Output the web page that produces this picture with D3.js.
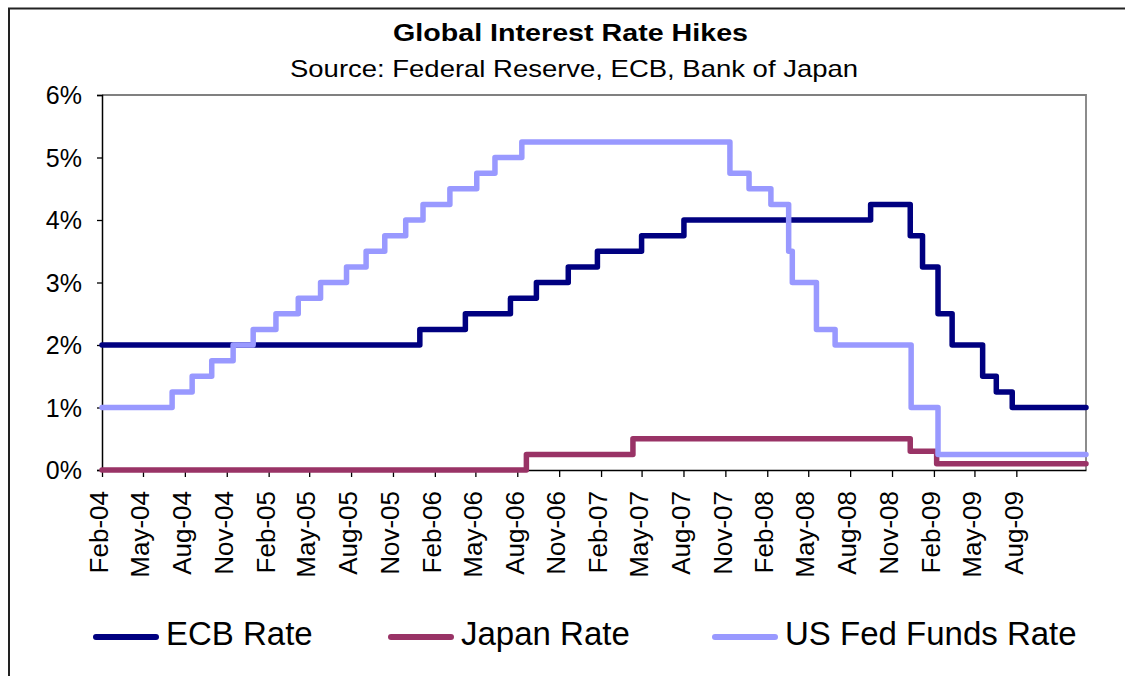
<!DOCTYPE html>
<html><head><meta charset="utf-8">
<script src="https://cdn.jsdelivr.net/npm/d3@7"></script>
<style>body{margin:0;background:#fff} svg{display:block}</style>
</head><body>
<svg id="chart" width="1125" height="676"></svg>
<script>
// ---- data ----
const tickLabels = ["Feb-04","May-04","Aug-04","Nov-04","Feb-05","May-05","Aug-05","Nov-05",
  "Feb-06","May-06","Aug-06","Nov-06","Feb-07","May-07","Aug-07","Nov-07",
  "Feb-08","May-08","Aug-08","Nov-08","Feb-09","May-09","Aug-09"];
const yTickValues = [0,1,2,3,4,5,6];
const startDate = "2004-02-01";
const endDate = "2010-01-01";

const ecbDates = ["2004-02-01","2005-12-30","2006-04-09","2006-07-17","2006-09-12","2006-11-21","2007-01-24",
  "2007-05-01","2007-08-02","2008-09-15","2008-12-11","2009-01-07","2009-02-10","2009-03-13","2009-05-19",
  "2009-06-18","2009-07-23"];
const ecbRates = [2.00,2.25,2.50,2.75,3.00,3.25,3.50,3.75,4.00,4.25,3.75,3.25,2.50,2.00,1.50,1.25,1.00];

const japanDates = ["2004-02-01","2006-08-21","2007-04-12","2008-12-11","2009-02-07"];
const japanRates = [0,0.25,0.50,0.30,0.10];

const fedDates = ["2004-02-01","2004-07-04","2004-08-17","2004-09-29","2004-11-15","2004-12-29","2005-02-17",
  "2005-04-07","2005-05-26","2005-07-22","2005-09-03","2005-10-14","2005-11-29","2006-01-06","2006-03-06",
  "2006-05-04","2006-06-13","2006-08-11","2007-11-11","2007-12-23","2008-02-09","2008-03-19","2008-03-27",
  "2008-05-19","2008-06-29","2008-12-13","2009-02-10"];
const fedRates = [1.00,1.25,1.50,1.75,2.00,2.25,2.50,2.75,3.00,3.25,3.50,3.75,4.00,4.25,4.50,4.75,5.00,5.25,
  4.75,4.50,4.25,3.50,3.00,2.25,2.00,1.00,0.25];

const seriesNames = ["ECB Rate","Japan Rate","US Fed Funds Rate"];
const seriesColors = ["#000080","#993366","#9999FF"];

// ---- build ----
const parseDay = d3.timeParse("%Y-%m-%d");
const parseTick = d3.timeParse("%b-%y");
const fmtTick = d3.timeFormat("%b-%y");

function buildSeries(dates, rates){
  const pts = dates.map((d,i)=>({date: parseDay(d), v: rates[i]}));
  pts.push({date: parseDay(endDate), v: rates[rates.length-1]});
  return pts;
}
const series = [buildSeries(ecbDates, ecbRates), buildSeries(japanDates, japanRates), buildSeries(fedDates, fedRates)];

const svg = d3.select("#chart");
const FONT = "'Liberation Sans', Arial, sans-serif";
const L = 102, R = 1086, T = 95, B = 470;

// outer frame
svg.append("rect").attr("x",9).attr("y",8.5).attr("width",1125).attr("height",700)
  .attr("fill","#fff").attr("stroke","#222").attr("stroke-width",2);

const x = d3.scaleTime().domain([parseDay(startDate), parseDay(endDate)]).range([L, R]);
const y = d3.scaleLinear().domain([0, 6]).range([B, T]);

// plot frame (top/right grey)
svg.append("path").attr("d",`M${L},${T}H${R}V${B}`).attr("fill","none")
  .attr("stroke","#808080").attr("stroke-width",1.8);

// title
svg.append("text").attr("x",570.5).attr("y",41).attr("text-anchor","middle")
  .attr("font-family",FONT).attr("font-weight","bold").attr("font-size",23)
  .attr("textLength",355).attr("lengthAdjust","spacingAndGlyphs")
  .text("Global Interest Rate Hikes");
svg.append("text").attr("x",574).attr("y",77).attr("text-anchor","middle")
  .attr("font-family",FONT).attr("font-size",24)
  .attr("textLength",568).attr("lengthAdjust","spacingAndGlyphs")
  .text("Source: Federal Reserve, ECB, Bank of Japan");

// y axis
const yAxis = svg.append("g").attr("transform",`translate(${L},0)`)
  .call(d3.axisLeft(y).tickValues(yTickValues).tickSize(5).tickFormat(d=>d+"%"));
yAxis.select(".domain").attr("stroke","#000").attr("stroke-width",1.5);
yAxis.selectAll(".tick line").attr("stroke","#000").attr("stroke-width",1.3);
yAxis.selectAll(".tick text").attr("x",-20).attr("dy","0.34em")
  .attr("font-family",FONT).attr("font-size",25).attr("fill","#000");

// x axis
const tickDates = tickLabels.map(t=>parseTick(t));
const xAxis = svg.append("g").attr("transform",`translate(0,${B})`)
  .call(d3.axisBottom(x).tickValues(tickDates).tickSize(7).tickFormat(fmtTick).tickSizeOuter(0));
xAxis.select(".domain").attr("stroke","#000").attr("stroke-width",1.5);
xAxis.selectAll(".tick line").attr("stroke","#000").attr("stroke-width",1.3);
xAxis.selectAll(".tick text")
  .attr("transform","rotate(-90)").attr("x",-21).attr("y",0).attr("dy","0.22em")
  .attr("text-anchor","end").attr("font-family",FONT).attr("font-size",26).attr("fill","#000");

// lines
const line = d3.line().x(d=>x(d.date)).y(d=>y(d.v)).curve(d3.curveStepAfter);
svg.append("g").selectAll("path").data(series).join("path")
  .attr("d",line).attr("fill","none")
  .attr("stroke",(d,i)=>seriesColors[i]).attr("stroke-width",5.5)
  .attr("stroke-linejoin","round").attr("stroke-linecap","round");

// legend
const legX = [93, 388, 712];
const leg = svg.append("g");
seriesNames.forEach((name,i)=>{
  leg.append("line").attr("x1",legX[i]+3).attr("x2",legX[i]+63).attr("y1",637).attr("y2",637)
    .attr("stroke",seriesColors[i]).attr("stroke-width",6).attr("stroke-linecap","round");
  leg.append("text").attr("x",legX[i]+73).attr("y",645)
    .attr("font-family",FONT).attr("font-size",33).attr("fill","#000").text(name);
});
</script>
</body></html>
